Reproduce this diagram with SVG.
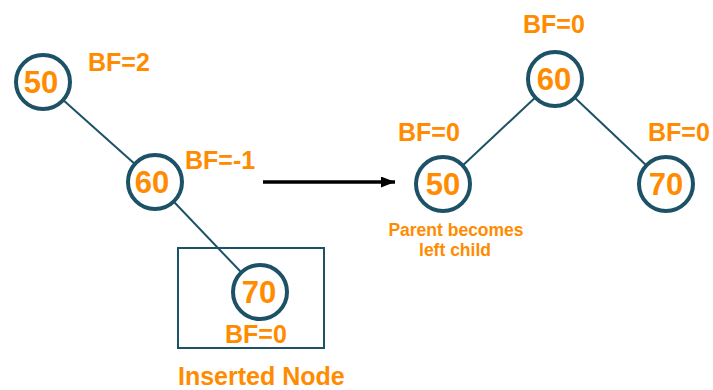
<svg xmlns="http://www.w3.org/2000/svg" width="713" height="390" viewBox="0 0 713 390">
<style>
.n{fill:#fff;stroke:#1c5166;stroke-width:4}
.e{stroke:#1c5166;stroke-width:2;fill:none}
.v{font-family:"Liberation Sans",Arial,sans-serif;font-weight:bold;font-size:31px;fill:#ff8c00;text-anchor:middle}
.bf{font-family:"Liberation Sans",Arial,sans-serif;font-weight:bold;font-size:25px;fill:#ff8c00}
.s{font-family:"Liberation Sans",Arial,sans-serif;font-weight:bold;font-size:17.5px;fill:#ff8c00;text-anchor:middle}
</style>
<defs>
<marker id="ah" viewBox="0 0 14 11" refX="14" refY="5.5" markerWidth="14" markerHeight="11" orient="auto" markerUnits="userSpaceOnUse"><path d="M0,0 L14,5.5 L0,11 Z" fill="#000"/></marker>
</defs>
<g id="connectors">
<line class="e" x1="43" y1="82" x2="155" y2="182"/>
<line class="e" x1="155" y1="182" x2="260" y2="292"/>
<line class="e" x1="555" y1="79" x2="443" y2="184"/>
<line class="e" x1="555" y1="79" x2="666" y2="184"/>
<line x1="263" y1="182" x2="395" y2="182" stroke="#000" stroke-width="3.5" marker-end="url(#ah)"/>
</g>
<g id="inserted-box">
<rect x="178" y="248" width="146" height="100" fill="none" stroke="#1c5166" stroke-width="2"/>
<text class="bf" x="178" y="385" font-size="28">Inserted Node</text>
</g>
<g id="node-50-left">
<circle class="n" cx="43" cy="82" r="27"/>
<text class="v" x="41" y="93">50</text>
<text class="bf" x="88" y="71">BF=2</text>
</g>
<g id="node-60-left">
<circle class="n" cx="155" cy="182" r="27"/>
<text class="v" x="152" y="193">60</text>
<text class="bf" x="185" y="169">BF=-1</text>
</g>
<g id="node-70-left">
<circle class="n" cx="260" cy="292" r="27"/>
<text class="v" x="259" y="303">70</text>
<text class="bf" x="225" y="343">BF=0</text>
</g>
<g id="node-60-right">
<circle class="n" cx="555" cy="79" r="27"/>
<text class="v" x="554" y="90">60</text>
<text class="bf" x="523" y="33">BF=0</text>
</g>
<g id="node-50-right">
<circle class="n" cx="443" cy="184" r="27"/>
<text class="v" x="443" y="195">50</text>
<text class="bf" x="398" y="141">BF=0</text>
<text class="s" x="456" y="236">Parent becomes</text>
<text class="s" x="455" y="256">left child</text>
</g>
<g id="node-70-right">
<circle class="n" cx="666" cy="184" r="27"/>
<text class="v" x="666" y="195">70</text>
<text class="bf" x="648" y="141">BF=0</text>
</g>
</svg>
